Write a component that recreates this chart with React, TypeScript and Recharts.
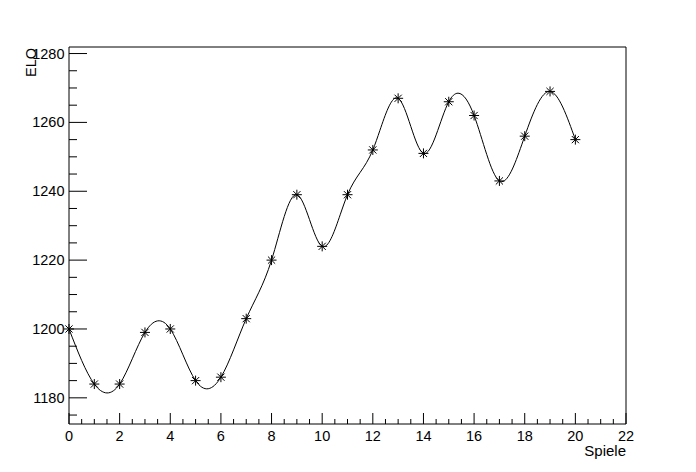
import React from 'react';
import { LineChart, Line, XAxis, YAxis, ReferenceLine } from 'recharts';

const games = [0, 1, 2, 3, 4, 5, 6, 7, 8, 9, 10, 11, 12, 13, 14, 15, 16, 17, 18, 19, 20];
const elo = [1200, 1184, 1184, 1199, 1200, 1185, 1186, 1203, 1220, 1239, 1224, 1239, 1252, 1267, 1251, 1266, 1262, 1243, 1256, 1269, 1255];
const xTicks = [0, 0.5, 1, 1.5, 2, 2.5, 3, 3.5, 4, 4.5, 5, 5.5, 6, 6.5, 7, 7.5, 8, 8.5, 9, 9.5, 10, 10.5, 11, 11.5, 12, 12.5, 13, 13.5, 14, 14.5, 15, 15.5, 16, 16.5, 17, 17.5, 18, 18.5, 19, 19.5, 20, 20.5, 21, 21.5, 22];
const yTicks = [1175, 1180, 1185, 1190, 1195, 1200, 1205, 1210, 1215, 1220, 1225, 1230, 1235, 1240, 1245, 1250, 1255, 1260, 1265, 1270, 1275, 1280];
const xLabel = 'Spiele';
const yLabel = 'ELO';

const data = games.map((g, i) => ({ game: g, elo: elo[i] }));

const FONT = '"Liberation Sans", Arial, Helvetica, sans-serif';
const FS = 14.5;

const XTick = (props: any) => {
  const { x, y, payload } = props;
  const v = payload.value;
  const major = Math.abs(v % 2) < 1e-9;
  return (
    <g>
      <line x1={x} x2={x} y1={y} y2={y - (major ? 11 : 5)} stroke="#000" strokeWidth={1} />
      {major && (
        <text x={x} y={y + 16.5} textAnchor="middle" fontSize={FS} fontFamily={FONT} fill="#000">
          {v}
        </text>
      )}
    </g>
  );
};

const YTick = (props: any) => {
  const { x, y, payload } = props;
  const v = payload.value;
  const major = v % 20 === 0;
  return (
    <g>
      <line x1={x} x2={x + (major ? 18 : 8)} y1={y} y2={y} stroke="#000" strokeWidth={1} />
      {major && (
        <text x={x - 4.5} y={y + 5} textAnchor="end" fontSize={FS} fontFamily={FONT} fill="#000">
          {v}
        </text>
      )}
    </g>
  );
};

const Star = (props: any) => {
  const { cx, cy, index } = props;
  if (cx == null || cy == null) return <g key={`s${index}`} />;
  const r = 5;
  const d = 3.6;
  return (
    <g key={`s${index}`} stroke="#000" strokeWidth={1}>
      <line x1={cx - r} x2={cx + r} y1={cy} y2={cy} />
      <line x1={cx} x2={cx} y1={cy - r} y2={cy + r} />
      <line x1={cx - d} x2={cx + d} y1={cy - d} y2={cy + d} />
      <line x1={cx - d} x2={cx + d} y1={cy + d} y2={cy - d} />
    </g>
  );
};

export default function App() {
  return (
    <div style={{ position: 'absolute', left: 0, top: 0, width: 696, height: 472, background: '#fff' }}>
      <LineChart width={696} height={472} data={data} margin={{ top: 47, right: 70, left: 0, bottom: 0 }}>
        <XAxis
          dataKey="game"
          type="number"
          domain={[0, 22]}
          ticks={xTicks}
          interval={0}
          height={48}
          tickSize={0}
          tickMargin={0}
          tickLine={false}
          axisLine={{ stroke: '#000', strokeWidth: 1 }}
          tick={<XTick />}
          allowDecimals
        />
        <YAxis
          type="number"
          domain={[1172.4, 1281.9]}
          ticks={yTicks}
          interval={0}
          width={69}
          tickSize={0}
          tickMargin={0}
          tickLine={false}
          axisLine={{ stroke: '#000', strokeWidth: 1 }}
          tick={<YTick />}
          allowDataOverflow
        />
        <ReferenceLine y={1281.9} stroke="#000" strokeWidth={1} />
        <ReferenceLine x={22} stroke="#000" strokeWidth={1} />
        <Line
          type="natural"
          dataKey="elo"
          stroke="#000"
          strokeWidth={1}
          dot={Star}
          activeDot={false}
          isAnimationActive={false}
        />
      </LineChart>
      <svg width={696} height={472} style={{ position: 'absolute', left: 0, top: 0, pointerEvents: 'none' }}>
        <text x={626} y={456} textAnchor="end" fontSize={15} fontFamily={FONT} fill="#000">
          {xLabel}
        </text>
        <text x={36} y={48} textAnchor="end" fontSize={FS} fontFamily={FONT} fill="#000" transform="rotate(-90 36 48)">
          {yLabel}
        </text>
      </svg>
    </div>
  );
}
